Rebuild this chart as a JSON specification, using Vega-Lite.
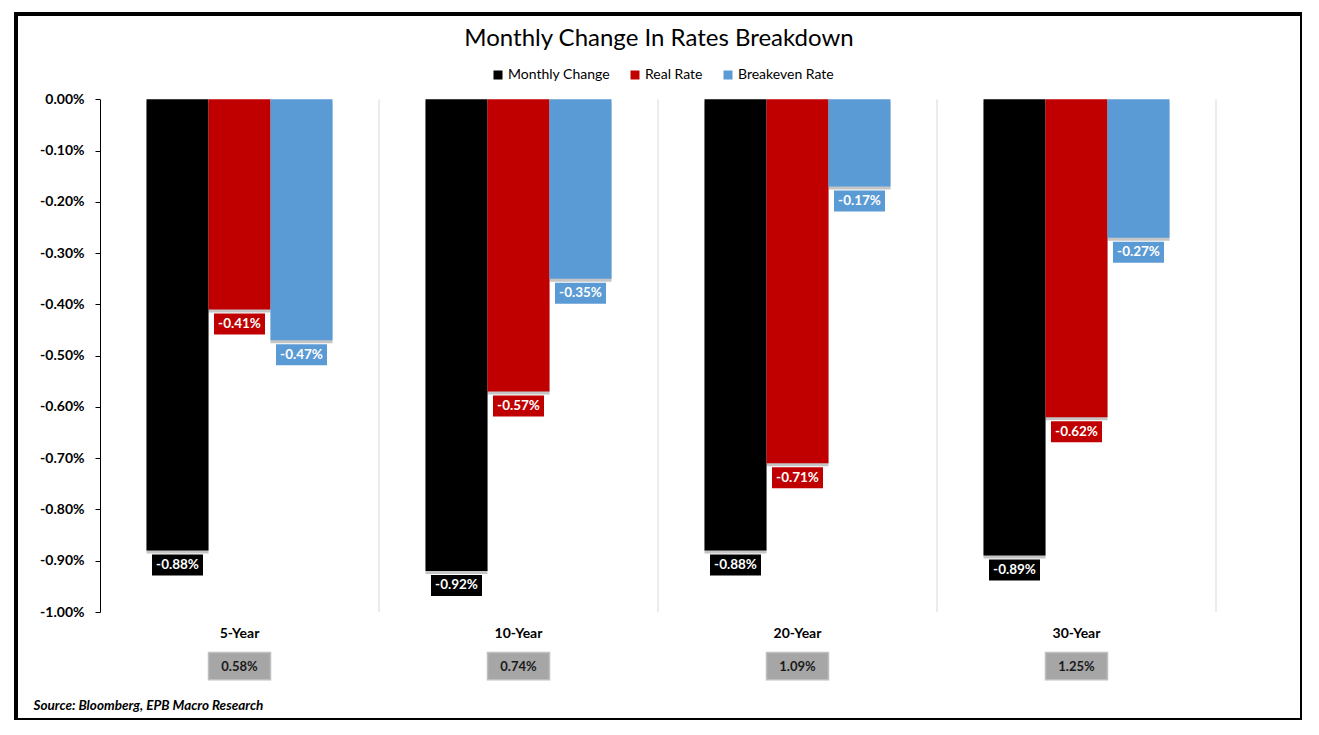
{
  "$schema": "https://vega.github.io/schema/vega-lite/v6.json",
  "width": 1286,
  "height": 706,
  "autosize": {"type": "none"},
  "padding": {"left": 16, "top": 14, "right": 0, "bottom": 0},
  "background": "white",
  "title": {
    "text": "Monthly Change In Rates Breakdown",
    "font": "Lato",
    "fontSize": 24,
    "fontWeight": "normal",
    "color": "#000000",
    "anchor": "middle",
    "baseline": "alphabetic",
    "offset": -56
  },
  "datasets": {
    "bars": [
      {"tenor": "5-Year", "series": "Monthly Change", "value": -0.88, "label": "-0.88%"},
      {"tenor": "5-Year", "series": "Real Rate", "value": -0.41, "label": "-0.41%"},
      {"tenor": "5-Year", "series": "Breakeven Rate", "value": -0.47, "label": "-0.47%"},
      {"tenor": "10-Year", "series": "Monthly Change", "value": -0.92, "label": "-0.92%"},
      {"tenor": "10-Year", "series": "Real Rate", "value": -0.57, "label": "-0.57%"},
      {"tenor": "10-Year", "series": "Breakeven Rate", "value": -0.35, "label": "-0.35%"},
      {"tenor": "20-Year", "series": "Monthly Change", "value": -0.88, "label": "-0.88%"},
      {"tenor": "20-Year", "series": "Real Rate", "value": -0.71, "label": "-0.71%"},
      {"tenor": "20-Year", "series": "Breakeven Rate", "value": -0.17, "label": "-0.17%"},
      {"tenor": "30-Year", "series": "Monthly Change", "value": -0.89, "label": "-0.89%"},
      {"tenor": "30-Year", "series": "Real Rate", "value": -0.62, "label": "-0.62%"},
      {"tenor": "30-Year", "series": "Breakeven Rate", "value": -0.27, "label": "-0.27%"}
    ],
    "levels": [
      {"tenor": "5-Year", "level": 0.58, "levelLabel": "0.58%"},
      {"tenor": "10-Year", "level": 0.74, "levelLabel": "0.74%"},
      {"tenor": "20-Year", "level": 1.09, "levelLabel": "1.09%"},
      {"tenor": "30-Year", "level": 1.25, "levelLabel": "1.25%"}
    ]
  },
  "encoding": {
    "x": {
      "field": "tenor",
      "type": "nominal",
      "sort": ["5-Year", "10-Year", "20-Year", "30-Year"],
      "scale": {"range": [84, 1200], "paddingInner": 0, "paddingOuter": 0},
      "axis": {
        "orient": "bottom",
        "offset": -108,
        "title": "Source: Bloomberg, EPB Macro Research",
        "titleFont": "Lato",
        "titleFontStyle": "italic",
        "titleFontWeight": "bold",
        "titleFontSize": 13.5,
        "titleColor": "#000000",
        "titleX": 17,
        "titleY": 93,
        "titleAlign": "left",
        "titleAnchor": "start",
        "titleBaseline": "middle",
        "labelAngle": 0,
        "labelFont": "Lato",
        "labelFontWeight": "bold",
        "labelFontSize": 14,
        "labelColor": "#000000",
        "labelPadding": 14,
        "domain": false,
        "ticks": false,
        "grid": false
      }
    }
  },
  "layer": [
    {
      "data": {"name": "levels"},
      "mark": {"type": "rule", "color": "#D9D9D9", "strokeWidth": 1},
      "encoding": {
        "x": {"field": "tenor", "type": "nominal", "sort": ["5-Year", "10-Year", "20-Year", "30-Year"], "bandPosition": 1},
        "y": {"datum": 0, "type": "quantitative", "scale": {"domain": [-1, 0], "range": [598, 85.3], "nice": false, "zero": false}},
        "y2": {"datum": -1}
      }
    },
    {
      "data": {"name": "bars"},
      "mark": {"type": "bar", "color": "#8C8C8C", "opacity": 0.5, "xOffset": 3, "yOffset": 3, "y2Offset": 3},
      "encoding": {
        "xOffset": {"field": "series", "type": "nominal", "sort": ["Monthly Change", "Real Rate", "Breakeven Rate"], "scale": {"paddingInner": 0, "paddingOuter": 0.75}},
        "y": {"field": "value", "type": "quantitative", "scale": {"domain": [-1, 0], "range": [598, 85.3], "nice": false, "zero": false}}
      }
    },
    {
      "data": {"name": "bars"},
      "mark": {"type": "bar"},
      "encoding": {
        "xOffset": {"field": "series", "type": "nominal", "sort": ["Monthly Change", "Real Rate", "Breakeven Rate"], "scale": {"paddingInner": 0, "paddingOuter": 0.75}},
        "y": {
          "field": "value",
          "type": "quantitative",
          "scale": {"domain": [-1, 0], "range": [598, 85.3], "nice": false, "zero": false},
          "axis": {
            "title": null,
            "offset": -84,
            "values": [0, -0.1, -0.2, -0.3, -0.4, -0.5, -0.6, -0.7, -0.8, -0.9, -1],
            "labelExpr": "(datum.value < 0 ? '-' : '') + format(abs(datum.value), '.2f') + '%'",
            "domainColor": "#000000",
            "domainWidth": 1,
            "tickColor": "#000000",
            "tickSize": 5,
            "labelFont": "Lato",
            "labelFontWeight": "bold",
            "labelFontSize": 14,
            "labelColor": "#000000",
            "labelPadding": 11,
            "grid": false
          }
        },
        "color": {
          "field": "series",
          "type": "nominal",
          "scale": {"domain": ["Monthly Change", "Real Rate", "Breakeven Rate"], "range": ["#000000", "#C00000", "#5B9BD5"]},
          "legend": {
            "title": null,
            "orient": "none",
            "legendX": 475,
            "legendY": 54,
            "direction": "horizontal",
            "symbolType": "square",
            "symbolSize": 81,
            "symbolStrokeWidth": 0,
            "symbolOpacity": 1,
            "labelFont": "Lato",
            "labelFontSize": 14,
            "labelColor": "#000000",
            "labelOffset": 3,
            "columnPadding": 18,
            "padding": 0
          }
        }
      }
    },
    {
      "data": {"name": "bars"},
      "mark": {"type": "tick", "thickness": 21, "size": 51, "yOffset": 14.5, "opacity": 1},
      "encoding": {
        "xOffset": {"field": "series", "type": "nominal", "sort": ["Monthly Change", "Real Rate", "Breakeven Rate"]},
        "y": {"field": "value", "type": "quantitative", "scale": {"domain": [-1, 0], "range": [598, 85.3], "nice": false, "zero": false}},
        "color": {"field": "series", "type": "nominal"}
      }
    },
    {
      "data": {"name": "bars"},
      "mark": {"type": "text", "color": "#FFFFFF", "font": "Lato", "fontWeight": "bold", "fontSize": 13.5, "baseline": "middle", "align": "center", "yOffset": 14.5},
      "encoding": {
        "xOffset": {"field": "series", "type": "nominal", "sort": ["Monthly Change", "Real Rate", "Breakeven Rate"]},
        "y": {"field": "value", "type": "quantitative", "scale": {"domain": [-1, 0], "range": [598, 85.3], "nice": false, "zero": false}},
        "text": {"field": "label"}
      }
    },
    {
      "data": {"name": "levels"},
      "mark": {"type": "bar", "width": 62, "fill": "#A6A6A6", "stroke": "#BFBFBF", "strokeWidth": 1.5},
      "encoding": {
        "y": {"datum": -1.079, "type": "quantitative", "scale": {"domain": [-1, 0], "range": [598, 85.3], "nice": false, "zero": false}},
        "y2": {"datum": -1.132}
      }
    },
    {
      "data": {"name": "levels"},
      "mark": {"type": "text", "color": "#1A1A1A", "font": "Lato", "fontWeight": "bold", "fontSize": 13, "baseline": "middle", "align": "center"},
      "encoding": {
        "y": {"datum": -1.1063, "type": "quantitative", "scale": {"domain": [-1, 0], "range": [598, 85.3], "nice": false, "zero": false}},
        "text": {"field": "levelLabel"}
      }
    }
  ],
  "config": {
    "view": {"stroke": "#000000", "strokeWidth": 4},
    "font": "Lato"
  }
}
